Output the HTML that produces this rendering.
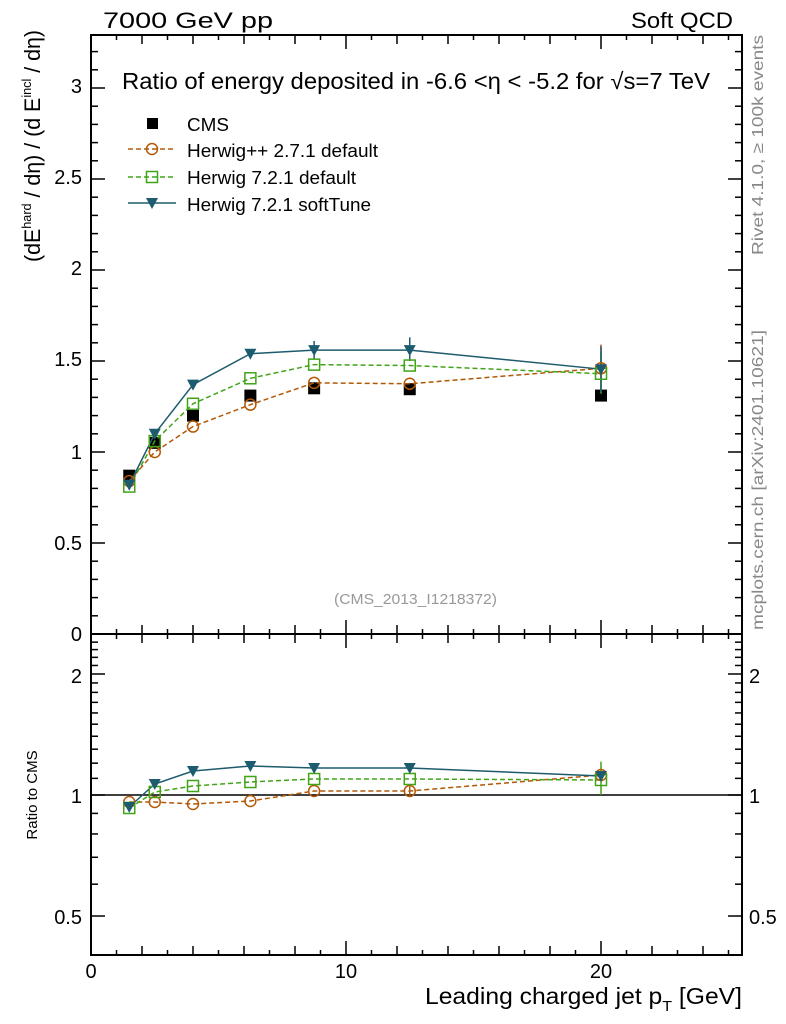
<!DOCTYPE html>
<html><head><meta charset="utf-8"><style>
html,body{margin:0;padding:0;background:#fff;width:786px;height:1024px;overflow:hidden}
text{font-family:"Liberation Sans",sans-serif}
</style></head><body>
<svg id="s" width="786" height="1024" xmlns="http://www.w3.org/2000/svg">
<rect x="0" y="0" width="786" height="1024" fill="#fff"/>
<g id="ticks" stroke="#000" stroke-width="1.5"></g>
<rect x="91" y="35" width="651" height="599" fill="none" stroke="#000" stroke-width="2"/>
<rect x="91" y="634" width="651" height="321" fill="none" stroke="#000" stroke-width="2"/>
<line x1="91" y1="795" x2="742" y2="795" stroke="#000" stroke-width="1.5"/>
<g id="data"></g>
<text x="103" y="28" font-size="22" textLength="170" lengthAdjust="spacingAndGlyphs">7000 GeV pp</text>
<text x="631" y="28" font-size="22" textLength="102" lengthAdjust="spacingAndGlyphs">Soft QCD</text>
<text x="122" y="89" font-size="23" textLength="588" lengthAdjust="spacingAndGlyphs">Ratio of energy deposited in -6.6 &lt;η &lt; -5.2 for √s=7 TeV</text>
<text x="187" y="131" font-size="18" textLength="42" lengthAdjust="spacingAndGlyphs">CMS</text>
<text x="187" y="157" font-size="18" textLength="191" lengthAdjust="spacingAndGlyphs">Herwig++ 2.7.1 default</text>
<text x="187" y="184" font-size="18" textLength="169" lengthAdjust="spacingAndGlyphs">Herwig 7.2.1 default</text>
<text x="187" y="211" font-size="18" textLength="184" lengthAdjust="spacingAndGlyphs">Herwig 7.2.1 softTune</text>
<text x="334" y="604" font-size="15" fill="#999" textLength="163" lengthAdjust="spacingAndGlyphs">(CMS_2013_I1218372)</text>
<g font-size="20" text-anchor="end">
<text x="82" y="93">3</text><text x="82" y="184">2.5</text><text x="82" y="275">2</text><text x="82" y="366">1.5</text><text x="82" y="459">1</text><text x="82" y="550">0.5</text><text x="82" y="641">0</text>
<text x="82" y="683">2</text><text x="82" y="803">1</text><text x="82" y="924">0.5</text>
</g>
<g font-size="20">
<text x="749" y="683">2</text><text x="749" y="803">1</text><text x="749" y="924">0.5</text>
</g>
<g font-size="20" text-anchor="middle">
<text x="91" y="978">0</text><text x="346" y="978">10</text><text x="601" y="978">20</text>
</g>
<text x="425" y="1004" font-size="23" textLength="317" lengthAdjust="spacingAndGlyphs">Leading charged jet p<tspan font-size="15" dy="7">T</tspan><tspan dy="-7"> [GeV]</tspan></text>
<text transform="translate(40,262) rotate(-90)" font-size="22" textLength="232" lengthAdjust="spacingAndGlyphs">(dE<tspan font-size="13" dy="-9">hard</tspan><tspan dy="9"> / dη) / (d E</tspan><tspan font-size="13" dy="-9">incl</tspan><tspan dy="9"> / dη)</tspan></text>
<text transform="translate(37,795) rotate(-90)" font-size="15" text-anchor="middle">Ratio to CMS</text>
<text transform="translate(763,255) rotate(-90)" font-size="16" fill="#888" textLength="220" lengthAdjust="spacingAndGlyphs">Rivet 4.1.0, ≥ 100k events</text>
<text transform="translate(763,630) rotate(-90)" font-size="16" fill="#888" textLength="300" lengthAdjust="spacingAndGlyphs">mcplots.cern.ch [arXiv:2401.10621]</text>
</svg>
<script>
var NS="http://www.w3.org/2000/svg";
function el(p,t,a){var e=document.createElementNS(NS,t);for(var k in a)e.setAttribute(k,a[k]);p.appendChild(e);return e;}
var T=document.getElementById('ticks'),D=document.getElementById('data');
function X(v){return 91+25.5*v;}
function Y(v){return 634-182*v;}
function R(v){return 795-402*Math.log10(v);}
for(var i=0;i<=32;i++){var y=Y(i/10);if(y<36)continue;var L=(i%5==0)?14:7;el(T,'line',{x1:91,y1:y,x2:91+L,y2:y});el(T,'line',{x1:742,y1:y,x2:742-L,y2:y});}
var rv=[0.5,0.6,0.7,0.8,0.9,1,1.1,1.2,1.3,1.4,1.5,1.6,1.7,1.8,1.9,2,2.1,2.2,2.3,2.4];
rv.forEach(function(v){var y=R(v);var L=(v==0.5||v==1||v==2)?14:7;el(T,'line',{x1:91,y1:y,x2:91+L,y2:y});el(T,'line',{x1:742,y1:y,x2:742-L,y2:y});});
for(var i=0;i<=25;i++){var x=X(i);var L=(i%10==0)?14:((i%2==0)?9:5);
 el(T,'line',{x1:x,y1:634,x2:x,y2:634-L});el(T,'line',{x1:x,y1:955,x2:x,y2:955-L});el(T,'line',{x1:x,y1:35,x2:x,y2:35+L});el(T,'line',{x1:x,y1:634,x2:x,y2:634+L});}
var xs=[1.5,2.5,4,6.25,8.75,12.5,20];
var cms=[0.87,1.05,1.2,1.31,1.35,1.345,1.31];
var hpp=[0.84,1.0,1.14,1.26,1.38,1.375,1.46];
var h7=[0.81,1.06,1.265,1.405,1.48,1.475,1.43];
var st=[0.82,1.10,1.37,1.54,1.56,1.56,1.455];
var rhpp=[802,802,804,801,791,791,775],rh7=[808,792,786,782,779,779,780],rst=[807,784,771,766,768,768,776];
var OR="#b35806",GR="#41a317",BL="#1d5b6e";
function line(pts,c,dash){el(D,'polyline',{points:pts.map(function(p){return p.join(',')}).join(' '),fill:'none',stroke:c,'stroke-width':1.5,'stroke-dasharray':dash||''});}
function circ(x,y){el(D,'circle',{cx:x,cy:y,r:5.5,fill:'none',stroke:OR,'stroke-width':1.5});}
function sq(x,y){el(D,'rect',{x:x-5.5,y:y-5.5,width:11,height:11,fill:'none',stroke:GR,'stroke-width':1.5});}
function tri(x,y,c){el(D,'polygon',{points:(x-6)+','+(y-5)+' '+(x+6)+','+(y-5)+' '+x+','+(y+6),fill:c||BL});}
function err(x,y1,y2,c){el(D,'line',{x1:x,y1:y1,x2:x,y2:y2,stroke:c,'stroke-width':1.5});}
xs.forEach(function(x,i){el(D,'rect',{x:X(x)-6,y:Y(cms[i])-6,width:12,height:12,fill:'#000'});});
err(X(20),Y(1.59),Y(1.33),OR);err(X(20),Y(1.55),Y(1.32),GR);err(X(20),Y(1.58),Y(1.33),BL);
err(X(12.5),Y(1.63),Y(1.5),BL);err(X(8.75),Y(1.61),Y(1.51),BL);
err(X(20),R(1.21),R(1.0),GR);err(X(12.5),R(1.18),R(1.15),BL);err(X(12.5),R(1.05),R(0.99),OR);
line(xs.map(function(x,i){return [X(x),Y(hpp[i])]}),OR,'5,3');
line(xs.map(function(x,i){return [X(x),Y(h7[i])]}),GR,'5,3');
line(xs.map(function(x,i){return [X(x),Y(st[i])]}),BL);
xs.forEach(function(x,i){circ(X(x),Y(hpp[i]));sq(X(x),Y(h7[i]));tri(X(x),Y(st[i]));});
line(xs.map(function(x,i){return [X(x),rhpp[i]]}),OR,'5,3');
line(xs.map(function(x,i){return [X(x),rh7[i]]}),GR,'5,3');
line(xs.map(function(x,i){return [X(x),rst[i]]}),BL);
xs.forEach(function(x,i){circ(X(x),rhpp[i]);sq(X(x),rh7[i]);tri(X(x),rst[i]);});
el(D,'rect',{x:147,y:118,width:11,height:11,fill:'#000'});
el(D,'line',{x1:128,y1:149,x2:176,y2:149,stroke:OR,'stroke-width':1.5,'stroke-dasharray':'5,3'});circ(152,149);
el(D,'line',{x1:128,y1:177,x2:176,y2:177,stroke:GR,'stroke-width':1.5,'stroke-dasharray':'5,3'});sq(152,177);
el(D,'line',{x1:128,y1:203,x2:176,y2:203,stroke:BL,'stroke-width':1.5});tri(152,203);
</script>
</body></html>
